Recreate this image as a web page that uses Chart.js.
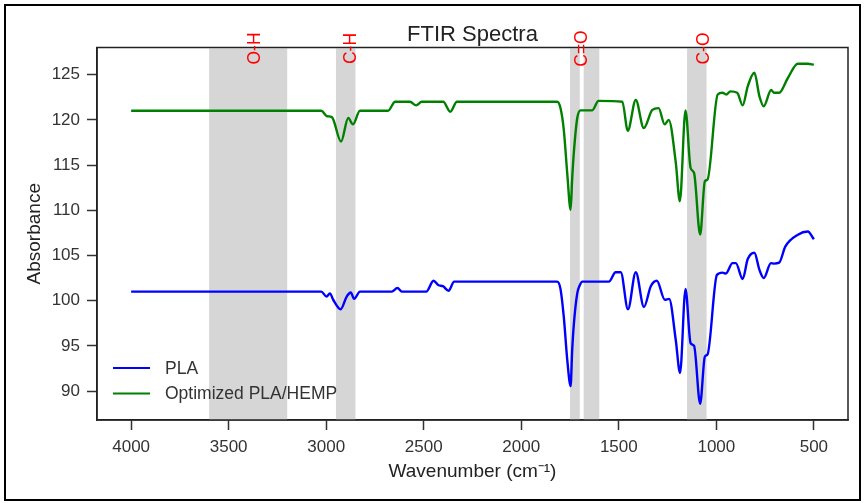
<!DOCTYPE html>
<html>
<head>
<meta charset="utf-8">
<script src="https://cdn.jsdelivr.net/npm/chart.js@4/dist/chart.umd.min.js"></script>
<style>
  body { margin: 0; background: #fff; }
  #wrap { position: relative; width: 864px; height: 503px; }
  #frame { position: absolute; left: 4px; top: 4px; width: 853px; height: 493px; border: 2px solid #000; pointer-events: none; }
</style>
</head>
<body>
<div id="wrap">
  <canvas id="ftirChart" width="864" height="503"></canvas>
  <div id="frame"></div>
</div>
<script>
// wavenumber (cm-1) and absorbance
const plaWn = [4000, 3025, 2998, 2981, 2964, 2926, 2895, 2874, 2857, 2827, 2664, 2635, 2612, 2487, 2450, 2424, 2402, 2373, 2344,
  1816, 1799, 1782, 1764, 1747, 1739, 1730, 1713, 1700, 1687, 1551, 1516, 1490, 1453, 1413, 1371, 1336, 1305, 1264, 1242,
  1208, 1186, 1158, 1132, 1114, 1083, 1059, 1045, 997, 968, 951, 917, 900, 865, 839, 805, 779, 757, 720, 704, 678, 646, 582, 531, 500];
const plaAbs = [101, 101, 100.45, 100.8, 100.1, 99.05, 100.45, 100.9, 100.2, 101, 101, 101.4, 101, 101, 102.2, 101.7, 101.6, 101.1, 102.1,
  102.1, 101.3, 98.2, 93.4, 90.55, 94.5, 97.5, 100.8, 101.7, 102.1, 102.1, 103.15, 103.15, 99.05, 103.15, 99.3, 101.6, 102.2, 100.1, 100.2,
  95.65, 92.0, 101.3, 95.3, 95.0, 88.6, 93.8, 94.05, 102.85, 103.1, 103.0, 104.15, 104.15, 102.4, 104.6, 105.3, 103.4, 102.5, 104.15, 104.1, 104.2, 106.0, 107.3, 107.65, 106.8];

const hempWn = [4000, 3025, 2996, 2971, 2924, 2887, 2863, 2827, 2683, 2647, 2570, 2539, 2510, 2400, 2364, 2330,
  1816, 1799, 1782, 1764, 1747, 1739, 1730, 1713, 1696, 1636, 1604, 1482, 1454, 1413, 1372, 1328, 1296, 1265, 1244,
  1208, 1187, 1158, 1132, 1114, 1083, 1059, 1045, 993, 968, 949, 928, 893, 865, 839, 805, 779, 757, 719, 704, 678, 634, 582, 531, 500];
const hempAbs = [121, 121, 120.4, 120.3, 117.6, 120.2, 119.5, 121, 121, 122, 122, 121.6, 122, 122, 120.9, 122,
  122, 121.3, 118.9, 114, 110.05, 113.5, 116.5, 120.2, 121.05, 121.05, 122.1, 122, 118.8, 122.2, 119.1, 121.1, 121.3, 119.5, 120.0,
  115.3, 111.0, 121.05, 114.7, 114.1, 107.3, 113.2, 113.4, 122.8, 123.0, 122.8, 123.15, 123.0, 121.6, 123.7, 125.2, 122.6, 121.5, 123.3, 123.0, 123.0, 124.6, 126.2, 126.2, 126.1];

const seriesNames = ['PLA', 'Optimized PLA/HEMP'];
const seriesColors = ['#0000ff', '#008000'];

// shaded absorption regions [from, to] and their labels
const bands = [[3600, 3200], [2950, 2850], [1750, 1700], [1680, 1600], [1150, 1050]];
const bandLabels = ['O-H', 'C-H', 'C=O', 'C-O'];
const bandLabelAt = [3365, 2870, 1688, 1062];

const xTicks = [4000, 3500, 3000, 2500, 2000, 1500, 1000, 500];
const yTicks = [90, 95, 100, 105, 110, 115, 120, 125];

const FONT = '"Liberation Sans", Arial, sans-serif';

const toPoints = (xs, ys) => xs.map((x, i) => ({ x: x, y: ys[i] }));

const decorations = {
  id: 'decorations',
  beforeDatasetsDraw(chart) {
    const { ctx, chartArea: a, scales: { x } } = chart;
    ctx.save();
    ctx.fillStyle = '#d6d6d6';
    bands.forEach(([b0, b1]) => {
      const p0 = x.getPixelForValue(b0), p1 = x.getPixelForValue(b1);
      ctx.fillRect(Math.min(p0, p1), a.top + 1, Math.abs(p1 - p0), a.bottom - a.top - 1);
    });
    ctx.restore();
  },
  afterDraw(chart) {
    const { ctx, chartArea: a, scales: { x } } = chart;
    ctx.save();
    // plot box
    ctx.strokeStyle = '#222';
    ctx.lineWidth = 1.5;
    ctx.strokeRect(a.left, a.top, a.right - a.left, a.bottom - a.top);

    // band labels
    ctx.fillStyle = '#ff0000';
    ctx.font = '17.5px ' + FONT;
    ctx.textAlign = 'center';
    ctx.textBaseline = 'middle';
    bandLabels.forEach((t, i) => {
      ctx.save();
      ctx.translate(x.getPixelForValue(bandLabelAt[i]), a.top + 1);
      ctx.rotate(-Math.PI / 2);
      ctx.fillText(t, 0, 0);
      ctx.restore();
    });

    // title
    ctx.fillStyle = '#222';
    ctx.font = '22px ' + FONT;
    ctx.textBaseline = 'alphabetic';
    ctx.fillText('FTIR Spectra', (a.left + a.right) / 2, 41);

    // axis titles
    ctx.font = '19px ' + FONT;
    ctx.textBaseline = 'middle';
    ctx.fillText('Wavenumber (cm\u207B\u00B9)', (a.left + a.right) / 2, 472);
    ctx.save();
    ctx.translate(35, (a.top + a.bottom) / 2);
    ctx.rotate(-Math.PI / 2);
    ctx.fillText('Absorbance', 0, 0);
    ctx.restore();

    // legend
    ctx.font = '17.5px ' + FONT;
    ctx.textAlign = 'left';
    seriesNames.forEach((name, i) => {
      const yy = 368 + i * 25.5;
      ctx.strokeStyle = seriesColors[i];
      ctx.lineWidth = 2;
      ctx.beginPath();
      ctx.moveTo(113, yy);
      ctx.lineTo(150, yy);
      ctx.stroke();
      ctx.fillStyle = '#333';
      ctx.fillText(name, 165, yy + 1);
    });
    ctx.restore();
  }
};

new Chart(document.getElementById('ftirChart'), {
  type: 'line',
  data: {
    datasets: [{
      label: seriesNames[0],
      data: toPoints(plaWn, plaAbs),
      borderColor: seriesColors[0],
      borderWidth: 2.4,
      pointRadius: 0,
      cubicInterpolationMode: 'monotone'
    }, {
      label: seriesNames[1],
      data: toPoints(hempWn, hempAbs),
      borderColor: seriesColors[1],
      borderWidth: 2.4,
      pointRadius: 0,
      cubicInterpolationMode: 'monotone'
    }]
  },
  options: {
    responsive: false,
    animation: false,
    devicePixelRatio: 1,
    layout: { padding: { top: 47.5, right: 16, left: 0, bottom: 0 } },
    plugins: { legend: { display: false }, tooltip: { enabled: false } },
    scales: {
      x: {
        type: 'linear',
        reverse: true,
        min: 325,
        max: 4175,
        afterBuildTicks: s => { s.ticks = xTicks.map(v => ({ value: v })); },
        afterFit: s => { s.height = 83; },
        grid: { drawOnChartArea: false, drawTicks: true, tickLength: 10, tickColor: '#333', tickWidth: 1.5 },
        border: { display: true, color: '#222', width: 1.5 },
        ticks: { color: '#333', font: { family: FONT, size: 17 }, padding: 7, maxRotation: 0, autoSkip: false, callback: v => String(v) }
      },
      y: {
        min: 86.8,
        max: 128,
        afterBuildTicks: s => { s.ticks = yTicks.map(v => ({ value: v })); },
        afterFit: s => { s.width = 97; },
        grid: { drawOnChartArea: false, drawTicks: true, tickLength: 10, tickColor: '#333', tickWidth: 1.5 },
        border: { display: true, color: '#222', width: 1.5 },
        ticks: { color: '#333', font: { family: FONT, size: 17 }, padding: 7, callback: v => String(v) }
      }
    }
  },
  plugins: [decorations]
});
</script>
</body>
</html>
